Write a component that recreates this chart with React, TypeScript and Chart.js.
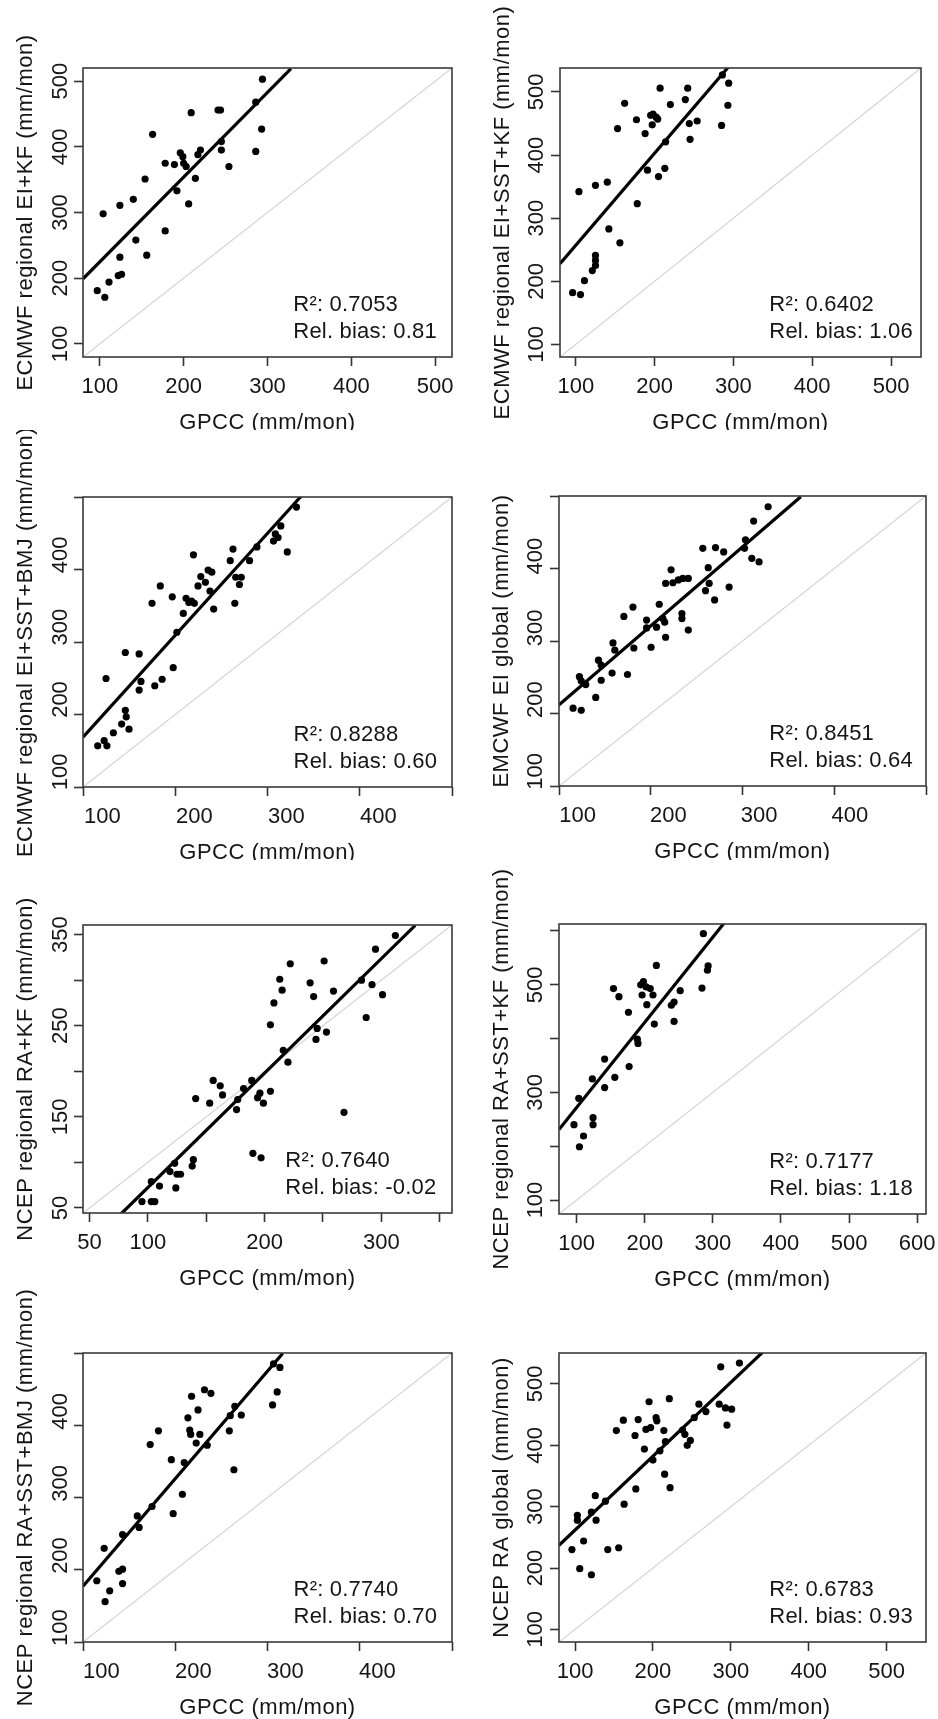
import React, { useEffect, useRef } from 'react';
import { Chart, registerables } from 'chart.js';

Chart.register(...registerables);

// ---------------- DATA ----------------
// Panel 1: ECMWF regional EI+KF
const p1Gpcc = [97, 106, 104, 111, 122, 126, 124, 124, 140, 143, 154, 156, 163, 178, 178, 189, 192, 196, 199, 200, 203, 206, 209, 214, 217, 220, 241, 244, 245, 245, 254, 286, 286, 293, 294];
const p1Model = [181, 171, 298, 194, 204, 206, 232, 311, 320, 258, 351, 235, 419, 375, 272, 373, 333, 391, 385, 375, 370, 313, 452, 352, 388, 395, 456, 456, 408, 395, 370, 393, 468, 427, 503];
const p1Fit = [80, 199, 328, 519];

// Panel 2: ECMWF regional EI+SST+KF
const p2Gpcc = [96, 106, 104, 111, 121, 125, 125, 125, 125, 140, 142, 153, 156, 162, 177, 178, 188, 191, 195, 197, 198, 202, 204, 205, 207, 213, 214, 220, 239, 242, 244, 245, 254, 285, 286, 293, 294];
const p2Model = [182, 179, 342, 201, 217, 225, 233, 241, 352, 357, 283, 442, 261, 482, 456, 323, 434, 376, 463, 448, 465, 460, 457, 366, 506, 379, 421, 480, 488, 506, 450, 425, 454, 447, 527, 479, 514];
const p2Fit = [80, 228, 296, 543];

// Panel 3: ECMWF regional EI+SST+BMJ
const p3Gpcc = [95, 102, 105, 104, 112, 121, 125, 126, 129, 125, 140, 140, 142, 154, 157, 165, 163, 177, 176, 181, 188, 191, 194, 197, 199, 200, 204, 207, 212, 215, 219, 221, 217, 239, 242, 244, 245, 249, 251, 260, 268, 286, 288, 291, 294, 301, 311];
const p3Model = [136, 143, 136, 229, 154, 166, 185, 176, 159, 265, 263, 213, 225, 333, 219, 228, 357, 244, 342, 293, 319, 340, 334, 336, 400, 333, 357, 370, 362, 379, 376, 325, 350, 392, 408, 333, 369, 359, 369, 392, 411, 419, 429, 424, 440, 404, 466];
const p3Fit = [79, 148, 316, 481];

// Panel 4: EMCWF EI global
const p4Gpcc = [95, 104, 102, 104, 109, 120, 123, 126, 126, 139, 138, 141, 151, 155, 161, 162, 176, 176, 181, 187, 190, 194, 196, 197, 197, 203, 205, 211, 215, 215, 216, 222, 222, 238, 241, 244, 245, 251, 252, 261, 267, 284, 285, 292, 294, 300, 310];
const p4Model = [188, 185, 232, 226, 221, 203, 255, 227, 248, 279, 237, 269, 316, 235, 329, 272, 311, 300, 273, 301, 333, 313, 308, 287, 362, 381, 363, 367, 320, 313, 369, 297, 369, 411, 352, 384, 362, 339, 412, 406, 357, 411, 423, 397, 449, 392, 469];
const p4Fit = [79, 192, 346, 483];

// Panel 5: NCEP regional RA+KF
const p5Gpcc = [95, 103, 106, 103, 110, 119, 123, 125, 128, 124, 138, 139, 141, 153, 156, 162, 164, 176, 177, 182, 189, 190, 194, 196, 197, 199, 205, 205, 208, 213, 215, 216, 220, 222, 239, 242, 244, 245, 251, 253, 259, 268, 283, 287, 292, 295, 301, 312];
const p5Model = [57, 57, 57, 79, 74, 90, 99, 87, 87, 72, 96, 103, 170, 165, 190, 184, 174, 158, 169, 181, 190, 110, 171, 176, 105, 165, 178, 251, 275, 301, 289, 223, 210, 318, 297, 282, 235, 247, 321, 243, 288, 155, 300, 259, 295, 334, 284, 349];
const p5Fit = [77, 43.4, 329, 360];

// Panel 6: NCEP regional RA+SST+KF
const p6Gpcc = [96, 103, 104, 110, 123, 124, 124, 141, 141, 154, 156, 162, 176, 177, 189, 190, 194, 196, 198, 202, 203, 208, 212, 214, 217, 239, 243, 243, 252, 284, 286, 292, 293];
const p6Model = [240, 289, 199, 219, 325, 253, 240, 362, 309, 493, 328, 478, 449, 348, 399, 391, 500, 481, 506, 496, 463, 493, 481, 427, 536, 462, 468, 432, 489, 494, 595, 527, 535];
const p6Fit = [74, 231, 316, 614];

// Panel 7: NCEP regional RA+SST+BMJ
const p7Gpcc = [95, 103, 104, 109, 119, 123, 123, 123, 139, 141, 153, 155, 162, 176, 178, 188, 190, 194, 196, 197, 198, 203, 205, 207, 212, 215, 219, 239, 240, 244, 245, 252, 286, 287, 291, 294];
const p7Model = [165, 210, 136, 151, 178, 181, 161, 229, 255, 239, 354, 268, 373, 333, 258, 285, 329, 391, 374, 368, 421, 356, 402, 368, 430, 353, 425, 373, 394, 319, 407, 395, 409, 466, 427, 461];
const p7Fit = [80, 157.5, 297, 480.4];

// Panel 8: NCEP RA global
const p8Gpcc = [96, 103, 103, 106, 111, 121, 121, 126, 127, 139, 142, 153, 156, 163, 162, 177, 178, 181, 189, 191, 195, 197, 200, 204, 205, 209, 215, 214, 216, 221, 222, 238, 241, 244, 248, 253, 259, 268, 285, 287, 293, 295, 301, 311];
const p8Model = [230, 286, 278, 199, 244, 189, 291, 318, 278, 309, 230, 424, 233, 304, 441, 416, 329, 442, 394, 426, 471, 429, 376, 445, 440, 391, 353, 424, 406, 476, 331, 425, 418, 400, 408, 445, 467, 455, 467, 528, 461, 433, 459, 534];
const p8Fit = [79.4, 237, 341, 552];

const xTitle = 'GPCC (mm/mon)';
const yTitles = [
  'ECMWF regional EI+KF (mm/mon)',
  'ECMWF regional EI+SST+KF (mm/mon)',
  'ECMWF regional EI+SST+BMJ (mm/mon)',
  'EMCWF EI global (mm/mon)',
  'NCEP regional RA+KF (mm/mon)',
  'NCEP regional RA+SST+KF (mm/mon)',
  'NCEP regional RA+SST+BMJ (mm/mon)',
  'NCEP RA global (mm/mon)',
];
const r2Values = ['0.7053', '0.6402', '0.8288', '0.8451', '0.7640', '0.7177', '0.7740', '0.6783'];
const relBiasValues = ['0.81', '1.06', '0.60', '0.64', '-0.02', '1.18', '0.70', '0.93'];

const axisRanges = [[80, 520], [80, 538], [79, 480], [79.5, 484], [44.5, 360.5], [74, 613], [80, 481], [79.4, 550.5]];
const tickSteps = [100, 100, 100, 100, 50, 100, 100, 100];
const xTickLabels = [
  [100, 200, 300, 400, 500],
  [100, 200, 300, 400, 500],
  [100, 200, 300, 400],
  [100, 200, 300, 400],
  [50, 100, 200, 300],
  [100, 200, 300, 400, 500, 600],
  [100, 200, 300, 400],
  [100, 200, 300, 400, 500],
];
const yTickLabels = [
  [100, 200, 300, 400, 500],
  [100, 200, 300, 400, 500],
  [100, 200, 300, 400],
  [100, 200, 300, 400],
  [50, 150, 250, 350],
  [100, 300, 500],
  [100, 200, 300, 400],
  [100, 200, 300, 400, 500],
];

const gpccSeries = [p1Gpcc, p2Gpcc, p3Gpcc, p4Gpcc, p5Gpcc, p6Gpcc, p7Gpcc, p8Gpcc];
const modelSeries = [p1Model, p2Model, p3Model, p4Model, p5Model, p6Model, p7Model, p8Model];
const fitLines = [p1Fit, p2Fit, p3Fit, p4Fit, p5Fit, p6Fit, p7Fit, p8Fit];

// ---------------- LAYOUT ----------------
const CELLS = [
  [0, 0, 469, 430], [469, 0, 469, 430],
  [0, 430, 469, 430], [469, 430, 469, 430],
  [0, 860, 469, 430], [469, 860, 469, 430],
  [0, 1290, 469, 429], [469, 1290, 469, 429],
];
// plot rectangles in page coordinates: left, top, right, bottom
const PLOTS = [
  [83, 68, 452, 357], [560, 68, 921, 357],
  [83, 497, 452, 787], [559, 496, 926, 786],
  [83, 925, 452, 1213], [559, 924, 926, 1214],
  [83, 1353, 452, 1642], [559, 1353, 926, 1642],
];
const LEGEND_OFFSETS = [158.7, 151.7, 158.4, 156.7, 166.7, 156.7, 158.4, 156.7];
const FONT_FAMILY = '"Liberation Sans", Arial, Helvetica, sans-serif';
const TEXT_COLOR = '#151515';

function Panel({ i }: { i: number }) {
  const ref = useRef<HTMLCanvasElement>(null);
  const [cx, cy, cw, ch] = CELLS[i];

  useEffect(() => {
    const [L, T, R, B] = PLOTS[i];
    const [lo, hi] = axisRanges[i];
    const AX = 20;
    const yLabelOff = i % 2 === 0 ? 16.5 : 17.5;
    const pts = gpccSeries[i].map((x, k) => ({ x, y: modelSeries[i][k] }));
    const f = fitLines[i];

    const textPlugin = {
      id: 'rtext' + i,
      afterDraw(chart: any) {
        const ctx = chart.ctx as CanvasRenderingContext2D;
        const { left, right, top, bottom } = chart.chartArea;
        const xs = chart.scales.x;
        const ys = chart.scales.y;
        ctx.save();
        // box
        ctx.strokeStyle = '#3a3a3a';
        ctx.lineWidth = 1.6;
        ctx.strokeRect(left, top, right - left, bottom - top);

        ctx.fillStyle = TEXT_COLOR;
        ctx.font = `22px ${FONT_FAMILY}`;
        (ctx as any).letterSpacing = '0px';
        // x tick labels
        ctx.textAlign = 'center';
        ctx.textBaseline = 'alphabetic';
        for (const v of xTickLabels[i]) {
          ctx.fillText(String(v), xs.getPixelForValue(v), bottom + 36);
        }
        // y tick labels (rotated)
        for (const v of yTickLabels[i]) {
          const py = ys.getPixelForValue(v);
          ctx.save();
          ctx.translate(left - yLabelOff, py);
          ctx.rotate(-Math.PI / 2);
          ctx.fillText(String(v), 0, 0);
          ctx.restore();
        }
        // axis titles
        (ctx as any).letterSpacing = '0.5px';
        ctx.fillText(xTitle, (left + right) / 2, bottom + 71.5);
        ctx.save();
        ctx.translate(left - 51, (top + bottom) / 2);
        ctx.rotate(-Math.PI / 2);
        ctx.fillText(yTitles[i], 0, 0);
        ctx.restore();
        // legend text
        (ctx as any).letterSpacing = '0.2px';
        ctx.textAlign = 'left';
        const lx = right - LEGEND_OFFSETS[i];
        ctx.fillText(`R\u00B2: ${r2Values[i]}`, lx, bottom - 46);
        ctx.fillText(`Rel. bias: ${relBiasValues[i]}`, lx, bottom - 19.5);
        ctx.restore();
      },
    };

    const scaleCommon = (isX: boolean) => ({
      type: 'linear' as const,
      min: lo,
      max: hi,
      afterFit: (s: any) => {
        if (isX) s.height = AX;
        else s.width = AX;
      },
      ticks: { display: false, stepSize: tickSteps[i], includeBounds: false },
      grid: {
        display: true,
        drawOnChartArea: false,
        drawTicks: true,
        tickLength: 9,
        tickColor: '#333',
        tickWidth: 1.6,
      },
      border: { display: false },
    });

    const chart = new Chart(ref.current as HTMLCanvasElement, {
      type: 'scatter',
      data: {
        datasets: [
          {
            data: pts,
            backgroundColor: '#000',
            borderColor: '#000',
            borderWidth: 0,
            pointRadius: 3.6,
            order: 0,
          } as any,
          {
            type: 'line',
            data: [{ x: f[0], y: f[1] }, { x: f[2], y: f[3] }],
            borderColor: '#000',
            borderWidth: 3.2,
            pointRadius: 0,
            fill: false,
            order: 1,
            clip: 0,
          } as any,
          {
            type: 'line',
            data: [{ x: lo, y: lo }, { x: hi, y: hi }],
            borderColor: '#d4d4d4',
            borderWidth: 1.2,
            pointRadius: 0,
            fill: false,
            order: 2,
            clip: 0,
          } as any,
        ],
      },
      options: {
        responsive: false,
        animation: false,
        devicePixelRatio: 1,
        events: [],
        layout: {
          padding: {
            left: L - cx - AX,
            top: T - cy,
            right: cx + cw - R,
            bottom: cy + ch - B - AX,
          },
        },
        plugins: {
          legend: { display: false },
          tooltip: { enabled: false },
        },
        scales: {
          x: scaleCommon(true) as any,
          y: scaleCommon(false) as any,
        },
      },
      plugins: [textPlugin],
    });
    return () => chart.destroy();
  }, [i]);

  return (
    <canvas
      ref={ref}
      width={cw}
      height={ch}
      style={{ position: 'absolute', left: cx, top: cy, width: cw, height: ch }}
    />
  );
}

export default function App() {
  return (
    <div
      style={{
        position: 'absolute',
        left: 0,
        top: 0,
        width: 938,
        height: 1719,
        background: '#fff',
        overflow: 'hidden',
      }}
    >
      {[0, 1, 2, 3, 4, 5, 6, 7].map((i) => (
        <Panel key={i} i={i} />
      ))}
    </div>
  );
}
